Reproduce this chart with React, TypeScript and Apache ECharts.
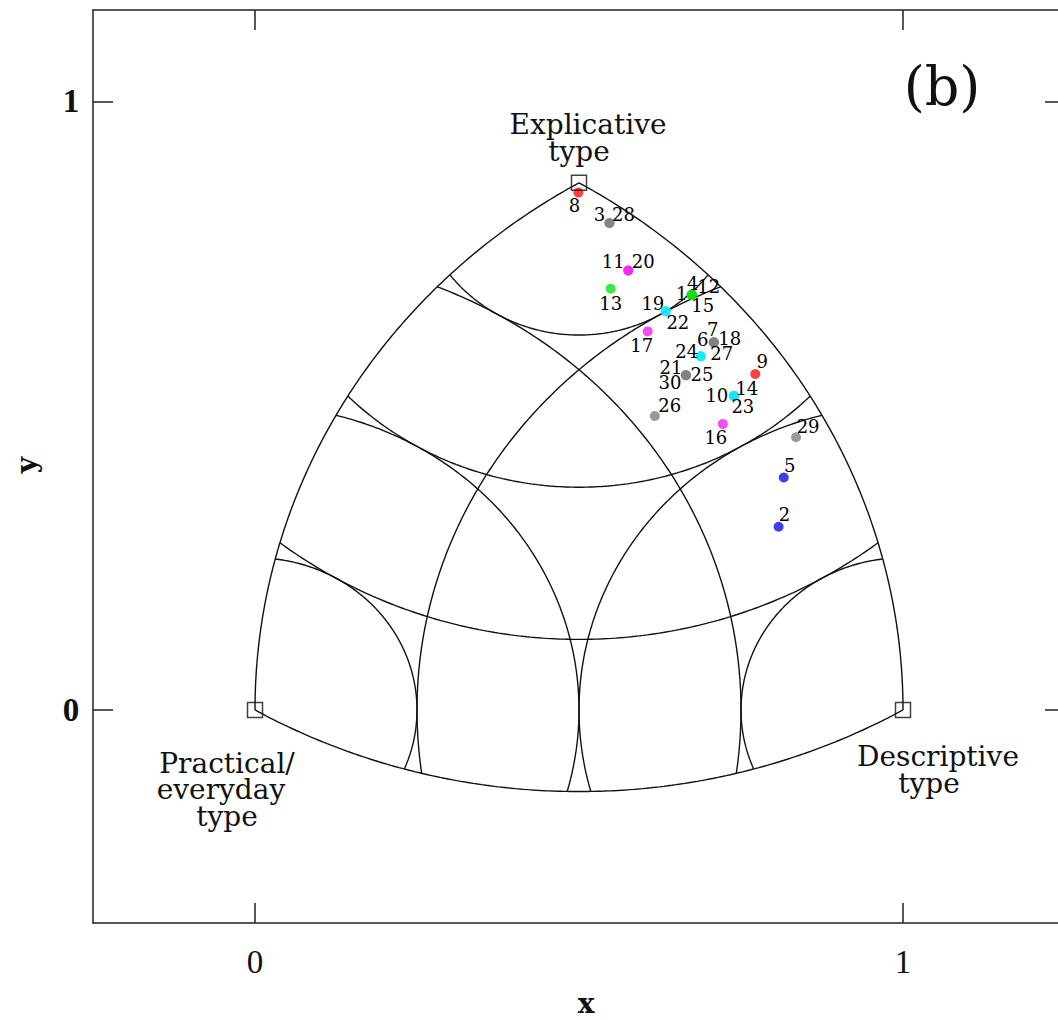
import React, { useEffect, useRef } from "react";
import * as echarts from "echarts";

// ---- data ----
const vertexNames = ["Practical/everyday", "Descriptive", "Explicative"];
const vertexX = [0, 1, 0.5];
const vertexY = [0, 0, 0.866];
const gridRadii = [0.25, 0.5, 0.75, 1];

const pointIds = [
  1, 2, 3, 4, 5, 6, 7, 8, 9, 10, 11, 12, 13, 14, 15, 16, 17, 18, 19, 20, 21, 22,
  23, 24, 25, 26, 27, 28, 29, 30,
];
const pointX = [
  0.674, 0.808, 0.547, 0.674, 0.816, 0.708, 0.708, 0.499, 0.772, 0.739, 0.576,
  0.674, 0.549, 0.739, 0.674, 0.722, 0.606, 0.708, 0.634, 0.576, 0.665, 0.634,
  0.739, 0.688, 0.665, 0.617, 0.688, 0.547, 0.835, 0.665,
];
const pointY = [
  0.682, 0.301, 0.8, 0.682, 0.382, 0.604, 0.604, 0.85, 0.552, 0.516, 0.722,
  0.682, 0.692, 0.516, 0.682, 0.47, 0.622, 0.604, 0.655, 0.722, 0.55, 0.655,
  0.516, 0.581, 0.55, 0.483, 0.581, 0.8, 0.448, 0.55,
];
const pointGroup = [
  "green", "blue", "gray", "green", "blue", "gray", "gray", "red", "red", "cyan",
  "magenta", "green", "green", "cyan", "green", "magenta", "magenta", "gray",
  "cyan", "magenta", "gray", "cyan", "cyan", "cyan", "gray", "gray", "cyan",
  "gray", "gray", "gray",
];

const xTicks = [0, 1];
const yTicks = [0, 1];

// ---- styles / label placement ----
const groupColors: Record<string, string> = {
  red: "#ff1010",
  gray: "#808080",
  magenta: "#f020f0",
  green: "#10e010",
  cyan: "#10e8f8",
  blue: "#1010e0",
};
const labelOffsets: [number, number][] = [
  [-10, -1], [6, -12], [-10, -9], [1, -11], [6, -12], [-11, -3], [-1, -13],
  [-4, 13], [7, -12], [-17, 0], [-15, -9], [17, -8], [0, 15], [13, -7],
  [11, 11], [-7, 14], [-6, 14], [16, -4], [-13, -8], [15, -9], [-15, -8],
  [12, 11], [9, 11], [-14, -5], [16, -1], [15, -10], [21, -3], [14, -9],
  [12, -11], [-16, 7],
];

const SERIF = "'DejaVu Serif', 'Liberation Serif', serif";
const TICKFONT = "'Liberation Serif', 'DejaVu Serif', serif";

function arcData(vi: number, r: number): number[][] {
  const cx = (vertexX[0] + vertexX[1] + vertexX[2]) / 3;
  const cy = (vertexY[0] + vertexY[1] + vertexY[2]) / 3;
  const vx = vertexX[vi];
  const vy = vertexY[vi];
  const mid = Math.atan2(cy - vy, cx - vx);
  const half = Math.acos(r / 2) - Math.PI / 6;
  const n = 160;
  const pts: number[][] = [];
  for (let k = 0; k <= n; k++) {
    const a = mid - half + (2 * half * k) / n;
    pts.push([vx + r * Math.cos(a), vy + r * Math.sin(a)]);
  }
  return pts;
}

export default function App() {
  const ref = useRef<HTMLDivElement>(null);

  useEffect(() => {
    if (!ref.current) return;
    const chart = echarts.init(ref.current, null, { renderer: "svg" });

    const arcSeries: any[] = [];
    for (let vi = 0; vi < 3; vi++) {
      for (const r of gridRadii) {
        arcSeries.push({
          type: "line",
          data: arcData(vi, r),
          showSymbol: false,
          silent: true,
          smooth: false,
          z: 1,
          lineStyle: { color: "#111", width: 1.4 },
        });
      }
    }

    const pointData = pointIds.map((id, i) => ({
      value: [pointX[i], pointY[i]],
      name: String(id),
      itemStyle: { color: groupColors[pointGroup[i]] },
      label: { offset: labelOffsets[i] },
    }));

    const axisLineStyle = { color: "#222", width: 1.5 };
    const tickStyle = { color: "#222", width: 1.5 };

    const cornerText = (text: string, x: number, y: number) => ({
      type: "text",
      x,
      y,
      style: {
        text,
        fontSize: 28,
        lineHeight: 25,
        fontFamily: SERIF,
        fill: "#111",
        align: "center",
        verticalAlign: "middle",
      },
    });

    const option: any = {
      animation: false,
      backgroundColor: "#ffffff",
      grid: { left: 93, top: 10, width: 972, height: 913 },
      xAxis: [
        {
          type: "value",
          min: -0.25,
          max: 1.25,
          position: "bottom",
          splitLine: { show: false },
          axisLine: { show: true, onZero: false, lineStyle: axisLineStyle },
          axisTick: { show: true, inside: true, length: 20, customValues: xTicks, lineStyle: tickStyle },
          axisLabel: {
            show: true,
            customValues: xTicks,
            margin: 39,
            verticalAlign: "middle",
            fontSize: 33,
            fontFamily: TICKFONT,
            color: "#111",
          },
        },
        {
          type: "value",
          min: -0.25,
          max: 1.25,
          position: "top",
          splitLine: { show: false },
          axisLine: { show: true, onZero: false, lineStyle: axisLineStyle },
          axisTick: { show: true, inside: true, length: 20, customValues: xTicks, lineStyle: tickStyle },
          axisLabel: { show: false },
        },
      ],
      yAxis: [
        {
          type: "value",
          min: -0.35,
          max: 1.15,
          position: "left",
          splitLine: { show: false },
          axisLine: { show: true, onZero: false, lineStyle: axisLineStyle },
          axisTick: { show: true, inside: true, length: 20, customValues: yTicks, lineStyle: tickStyle },
          axisLabel: {
            show: true,
            customValues: yTicks,
            margin: 22,
            align: "center",
            fontSize: 33,
            fontFamily: TICKFONT,
            fontWeight: "bold",
            color: "#111",
          },
        },
        {
          type: "value",
          min: -0.35,
          max: 1.15,
          position: "right",
          splitLine: { show: false },
          axisLine: { show: true, onZero: false, lineStyle: axisLineStyle },
          axisTick: { show: true, inside: true, length: 20, customValues: yTicks, lineStyle: tickStyle },
          axisLabel: { show: false },
        },
      ],
      series: [
        ...arcSeries,
        {
          type: "scatter",
          name: "points",
          z: 3,
          symbol: "circle",
          symbolSize: 10,
          data: pointData,
          label: {
            show: true,
            position: "inside",
            formatter: (p: any) => p.name,
            fontSize: 18,
            lineHeight: 14,
            fontFamily: SERIF,
            color: "#000",
            opacity: 1,
            textBorderWidth: 0,
            textBorderColor: "transparent",
          },
        },
        {
          type: "scatter",
          name: "vertices",
          z: 4,
          symbol: "rect",
          symbolSize: 15,
          data: vertexNames.map((n, i) => ({ name: n, value: [vertexX[i], vertexY[i]] })),
          itemStyle: { color: "rgba(0,0,0,0)", borderColor: "#111", borderWidth: 1.5 },
        },
      ],
      graphic: [
        { type: "text", x: 942, y: 86, style: { text: "(b)", fontSize: 54, fontFamily: SERIF, fill: "#111", align: "center", verticalAlign: "middle" } },
        cornerText("Explicative", 588, 124),
        cornerText("type", 579, 151),
        cornerText("Practical/", 227, 763),
        cornerText("everyday", 221, 789),
        cornerText("type", 227, 816),
        cornerText("Descriptive", 938, 756),
        cornerText("type", 929, 783),
        { type: "text", x: 586, y: 1003, style: { text: "x", fontSize: 28, fontWeight: "bold", fontFamily: SERIF, fill: "#111", align: "center", verticalAlign: "middle" } },
        { type: "text", x: 26, y: 465, rotation: Math.PI / 2, style: { text: "y", fontSize: 28, fontWeight: "bold", fontFamily: SERIF, fill: "#111", align: "center", verticalAlign: "middle" } },
      ],
    };

    chart.setOption(option);
    return () => chart.dispose();
  }, []);

  return (
    <div
      style={{
        position: "fixed",
        left: 0,
        top: 0,
        width: 1058,
        height: 1020,
        overflow: "hidden",
        background: "#fff",
      }}
    >
      <div ref={ref} style={{ width: 1075, height: 1020 }} />
    </div>
  );
}
